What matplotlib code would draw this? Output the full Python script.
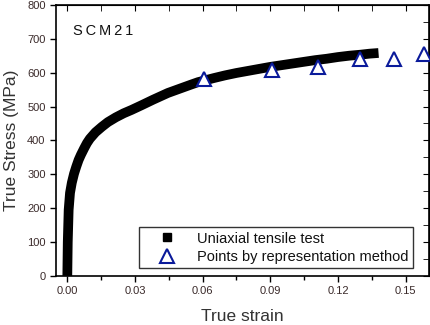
import numpy as np
import matplotlib.pyplot as plt
from matplotlib.ticker import MultipleLocator

plt.rcParams['font.family'] = ['Liberation Sans', 'DejaVu Sans']

# uniaxial tensile test curve
strain_test = [0.0, 0.0002, 0.0006, 0.0012, 0.002, 0.003, 0.004, 0.005,
               0.006, 0.0075, 0.0087, 0.010, 0.0125, 0.0153, 0.018, 0.0215,
               0.025, 0.0285, 0.033, 0.038, 0.0446, 0.050, 0.055, 0.058,
               0.065, 0.07, 0.075, 0.08, 0.085, 0.09, 0.095, 0.10, 0.105,
               0.11, 0.115, 0.12, 0.125, 0.13, 0.134, 0.138]
stress_test = [0, 100, 195, 245, 275, 302, 323, 342, 357, 377, 392, 405,
               424, 440, 454, 468, 480, 490, 504, 520, 540, 553, 565, 572,
               584, 592, 599, 605, 611, 617, 622, 627, 632, 637, 641, 646,
               650, 653, 656, 658]

# points by representation method
strain_pts = [0.0604, 0.0909, 0.111, 0.1297, 0.1447, 0.158]
stress_pts = [581, 608, 617, 640, 640, 655]

fig = plt.figure(figsize=(4.31, 3.25), dpi=100)
ax = fig.add_axes([0.130, 0.151, 0.866, 0.834])

ax.plot(strain_test, stress_test, color='black', lw=7, solid_capstyle='butt',
        solid_joinstyle='round', zorder=2)
ax.plot(strain_pts, stress_pts, ls='none', marker='^', ms=10, mfc='white',
        mec='#0a1a9a', mew=1.5, zorder=3)

# legend handles
h1, = ax.plot([], [], ls='none', marker='s', ms=6, color='black')
h2, = ax.plot([], [], ls='none', marker='^', ms=10, mfc='white',
              mec='#0a1a9a', mew=1.5)
leg = ax.legend([h1, h2], ['Uniaxial tensile test',
                           'Points by representation method'],
                loc='lower right', bbox_to_anchor=(0.957, 0.028),
                fontsize=10.5, frameon=True, fancybox=False, borderpad=0.3,
                handletextpad=0.5, labelspacing=0.3, handlelength=3.2,
                borderaxespad=0)
leg.get_frame().set_edgecolor('black')
leg.get_frame().set_linewidth(1.0)
for t in leg.get_texts():
    t.set_color('#111111')

ax.set_xlim(-0.005, 0.1605)
ax.set_ylim(0, 800)
ax.xaxis.set_major_locator(MultipleLocator(0.03))
ax.xaxis.set_minor_locator(MultipleLocator(0.015))
ax.yaxis.set_major_locator(MultipleLocator(100))
ax.yaxis.set_minor_locator(MultipleLocator(50))
ax.set_xticks([0.0, 0.03, 0.06, 0.09, 0.12, 0.15])
ax.set_xticklabels(['0.00', '0.03', '0.06', '0.09', '0.12', '0.15'])

ax.tick_params(axis='both', which='both', direction='out', labelsize=8,
               labelcolor='#3a2a2a', width=1)
ax.tick_params(which='major', length=4)
ax.tick_params(which='minor', length=3)
ax.tick_params(axis='y', which='minor', left=False)

# inward ticks on top and right
ax2 = ax.secondary_xaxis('top')
ax2.xaxis.set_major_locator(MultipleLocator(0.03))
ax2.xaxis.set_minor_locator(MultipleLocator(0.015))
ax2.tick_params(which='both', direction='in', labeltop=False, length=4)
ax3 = ax.secondary_yaxis('right')
ax3.yaxis.set_major_locator(MultipleLocator(100))
ax3.yaxis.set_minor_locator(MultipleLocator(50))
ax3.tick_params(which='both', direction='in', labelright=False, length=4)

for s in ax.spines.values():
    s.set_linewidth(1.2)

ax.set_xlabel('True strain', fontsize=12.5, color='#333333', labelpad=9)
ax.set_ylabel('True Stress (MPa)', fontsize=12.5, color='#333333', labelpad=6)

ax.text(0.045, 0.905, 'S\u2009C\u2009M\u20092\u20091', transform=ax.transAxes,
        fontsize=10.5, color='#111111', va='center')

fig.savefig('out.png', dpi=100)
